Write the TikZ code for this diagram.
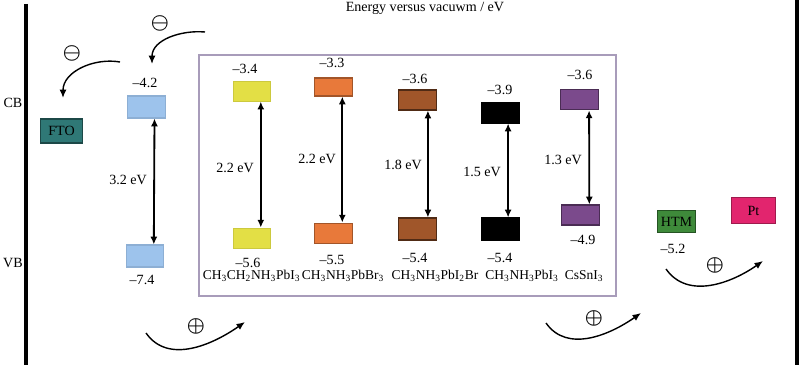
\documentclass[tikz,border=0pt]{standalone}
\usepackage{amsmath,amssymb}
\usepackage{fontspec}
\setmainfont{Liberation Serif}
\usetikzlibrary{arrows.meta,positioning,calc}

\definecolor{tiob}{HTML}{9DC3EC}
\definecolor{ylw}{HTML}{E3DF45}
\definecolor{org}{HTML}{E8793A}
\definecolor{brn}{HTML}{A0562A}
\definecolor{prp}{HTML}{7B4A8C}
\definecolor{fto}{HTML}{2F7876}
\definecolor{htm}{HTML}{3E8A3A}
\definecolor{ptc}{HTML}{E2256E}
\definecolor{frame}{HTML}{A89CBA}

\begin{document}
\begin{tikzpicture}[
    x=0.025cm, y=0.025cm,
    font=\fontsize{10}{12}\selectfont,
    band/.style={draw, minimum width=0.93cm, minimum height=0.52cm, inner sep=0, line width=0.8pt},
    gap/.style={<->, line width=1.3pt, >={Latex[length=5.5pt,width=5pt]}},
    hop/.style={->, line width=1pt, >={Latex[length=6pt,width=5pt]}},
    lbl/.style={inner sep=1pt},
    cmp/.style={inner sep=0pt, font=\fontsize{9.6}{11}\selectfont},
    sgn/.style={inner sep=0, font=\Large}
]
\useasboundingbox (0,0) rectangle (800,-365);

% frame lines and axis text
\draw[line width=2.8pt] (26,-4) -- (26,-365);
\draw[line width=2.8pt] (797,0) -- (797,-365);
\node[lbl] (title) at (425,-8) {Energy versus vacuwm / eV};
\node[lbl] (cb) at (13,-103) {CB};
\node[lbl] (vb) at (13,-263) {VB};
\draw[frame, line width=1.2pt] (199,-55) rectangle (616,-296);

% electrodes
\node[band, fill=fto, draw=fto!60!black, minimum width=1.03cm, minimum height=0.6cm] (fto) at (61.5,-131) {FTO};
\node[band, fill=htm, draw=htm!60!black, minimum height=0.53cm] (htmb) at (676.5,-221.5) {HTM};
\node[band, fill=ptc, draw=ptc!70!black, minimum width=1.08cm, minimum height=0.63cm] (pt) at (753.5,-210.5) {Pt};

% TiO2
\node[band, fill=tiob, draw=tiob!90!black, minimum height=0.55cm] (tiot) at (146.5,-107) {};
\node[band, fill=tiob, draw=tiob!90!black, minimum height=0.55cm] (tiob) at (145,-256) {};

% perovskites
\node[band, fill=ylw, draw=ylw!90!black, minimum height=0.48cm] (yt) at (252,-91.5) {};
\node[band, fill=ylw, draw=ylw!90!black] (yb) at (252,-238.5) {};
\node[band, fill=org, draw=org!70!black, minimum height=0.45cm] (ot) at (333.5,-87) {};
\node[band, fill=org, draw=org!70!black] (ob) at (333.5,-233.5) {};
\node[band, fill=brn, draw=brn!50!black, minimum height=0.5cm] (bt) at (417.5,-100) {};
\node[band, fill=brn, draw=brn!50!black, minimum height=0.55cm] (bb) at (417.5,-229) {};
\node[band, fill=black, minimum height=0.5cm] (kt) at (500.5,-113) {};
\node[band, fill=black, minimum height=0.55cm] (kb) at (500.5,-229) {};
\node[band, fill=prp, draw=prp!60!black] (pt2) at (579.5,-99.5) {};
\node[band, fill=prp, draw=prp!60!black, minimum height=0.5cm] (pb) at (580.5,-215) {};

% gaps
\draw[gap] ([xshift=0.2cm]tiot.south) -- ([xshift=0.22cm]tiob.north);
\draw[gap] ([xshift=0.22cm]yt.south) -- ([xshift=0.22cm]yb.north);
\draw[gap] ([xshift=0.22cm]ot.south) -- ([xshift=0.22cm]ob.north);
\draw[gap] ([xshift=0.26cm]bt.south) -- ([xshift=0.26cm]bb.north);
\draw[gap] ([xshift=0.19cm]kt.south) -- ([xshift=0.19cm]kb.north);
\draw[gap] ([xshift=0.24cm]pt2.south) -- ([xshift=0.22cm]pb.north);

% energy values
\node[lbl] (v1) at (145,-83) {–4.2};
\node[lbl] (v2) at (142,-280) {–7.4};
\node[lbl] (v3) at (245,-69) {–3.4};
\node[lbl] (v4) at (248,-263) {–5.6};
\node[lbl] (v5) at (332,-63) {–3.3};
\node[lbl] (v6) at (332,-260) {–5.5};
\node[lbl] (v7) at (415,-79) {–3.6};
\node[lbl] (v8) at (415,-258) {–5.4};
\node[lbl] (v9) at (500,-90) {–3.9};
\node[lbl] (v10) at (500,-258) {–5.4};
\node[lbl] (v11) at (580,-75) {–3.6};
\node[lbl] (v12) at (583,-240) {–4.9};
\node[lbl] (v13) at (673,-249) {–5.2};

% gap labels
\node[lbl] (g1) at (128,-180) {3.2 eV};
\node[lbl] (g2) at (235,-168) {2.2 eV};
\node[lbl] (g3) at (317,-159) {2.2 eV};
\node[lbl] (g4) at (403,-165) {1.8 eV};
\node[lbl] (g5) at (482,-172) {1.5 eV};
\node[lbl] (g6) at (563,-160) {1.3 eV};

% compounds
\node[cmp] (c1) at (251.5,-276) {CH\textsubscript{3}CH\textsubscript{2}NH\textsubscript{3}PbI\textsubscript{3}};
\node[cmp] (c2) at (343,-276) {CH\textsubscript{3}NH\textsubscript{3}PbBr\textsubscript{3}};
\node[cmp] (c3) at (435,-276) {CH\textsubscript{3}NH\textsubscript{3}PbI\textsubscript{2}Br};
\node[cmp] (c4) at (522,-276) {CH\textsubscript{3}NH\textsubscript{3}PbI\textsubscript{3}};
\node[cmp] (c5) at (584,-276) {CsSnI\textsubscript{3}};

% charge transfer
\coordinate (e1s) at (120,-62);
\coordinate (e1e) at (63,-98);
\coordinate (e2s) at (205,-32);
\coordinate (e2e) at (152,-64);
\node[sgn] (m1) at (72,-53) {$\boldsymbol{\ominus}$};
\node[sgn] (m2) at (160,-23) {$\boldsymbol{\ominus}$};
\draw[hop] (e1s) to[out=170, in=90] (e1e);
\draw[hop] (e2s) to[out=175, in=90] (e2e);

\coordinate (h1s) at (146,-333);
\coordinate (h1e) at (245,-322);
\coordinate (h2s) at (546,-323);
\coordinate (h2e) at (641,-313);
\coordinate (h3s) at (666,-269);
\coordinate (h3e) at (763,-261);
\node[sgn] (p1) at (196,-326) {$\boldsymbol{\oplus}$};
\node[sgn] (p2) at (594,-318) {$\boldsymbol{\oplus}$};
\node[sgn] (p3) at (715,-265) {$\boldsymbol{\oplus}$};
\draw[hop] (h1s) to[out=-55, in=-145] (h1e);
\draw[hop] (h2s) to[out=-55, in=-145] (h2e);
\draw[hop] (h3s) to[out=-55, in=-145] (h3e);
\end{tikzpicture}
\end{document}
